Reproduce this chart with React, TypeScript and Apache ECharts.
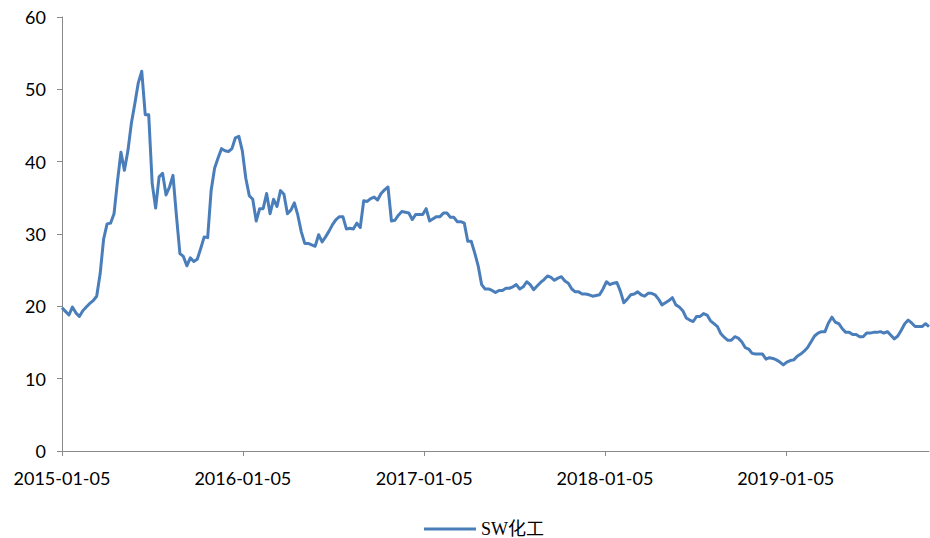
import { useEffect, useRef } from 'react';
import * as echarts from 'echarts';

// SW化工 valuation, one reading per week starting from the first Monday below
const seriesName = 'SW化工';
const firstWeek = '2015-01-05';
const weeklyPE = [
  19.8, 19.3, 18.8, 19.9, 19.1, 18.6, 19.4, 19.9, 20.4, 20.8, 21.4,
  24.5, 29.3, 31.4, 31.5, 32.8, 37.3, 41.3, 38.8, 41.5, 45.3,
  48.0, 50.9, 52.5, 46.5, 46.5, 37.0, 33.6, 37.9, 38.4, 35.4,
  36.5, 38.1, 32.5, 27.3, 26.9, 25.6, 26.7, 26.2, 26.5, 28.0,
  29.6, 29.5, 36.0, 39.1, 40.5, 41.8, 41.5, 41.4, 41.8, 43.3,
  43.5, 41.5, 37.7, 35.3, 34.8, 31.8, 33.5, 33.5, 35.6, 32.8,
  34.8, 33.8, 36.0, 35.5, 32.8, 33.3, 34.3, 32.6, 30.3, 28.7,
  28.7, 28.5, 28.3, 29.9, 28.9, 29.6, 30.4, 31.3, 32.0, 32.4,
  32.4, 30.7, 30.8, 30.7, 31.5, 30.9, 34.6, 34.5, 34.9, 35.1,
  34.7, 35.6, 36.1, 36.5, 31.8, 31.9, 32.6, 33.1, 33.0, 32.9,
  32.0, 32.7, 32.7, 32.7, 33.5, 31.8, 32.1, 32.4, 32.4, 32.9,
  32.9, 32.3, 32.3, 31.7, 31.7, 31.5, 29.0, 29.0, 27.4, 25.6,
  23.0, 22.4, 22.4, 22.2, 21.9, 22.2, 22.2, 22.5, 22.5, 22.7,
  23.0, 22.4, 22.7, 23.4, 23.0, 22.3, 22.8, 23.3, 23.7, 24.2,
  24.0, 23.6, 23.9, 24.1, 23.5, 23.2, 22.4, 22.0, 22.0, 21.7,
  21.7, 21.6, 21.4, 21.5, 21.6, 22.4, 23.4, 23.0, 23.2, 23.3,
  22.1, 20.5, 21.0, 21.6, 21.7, 22.0, 21.6, 21.4, 21.8, 21.8,
  21.6, 21.0, 20.2, 20.5, 20.8, 21.2, 20.2, 19.9, 19.4, 18.4,
  18.1, 17.9, 18.6, 18.6, 19.0, 18.8, 18.0, 17.6, 17.2, 16.2,
  15.7, 15.3, 15.3, 15.8, 15.6, 15.1, 14.3, 14.1, 13.5, 13.4,
  13.4, 13.4, 12.7, 12.9, 12.8, 12.6, 12.3, 11.9, 12.3, 12.5,
  12.6, 13.1, 13.4, 13.8, 14.3, 15.1, 15.9, 16.3, 16.5, 16.5,
  17.7, 18.5, 17.8, 17.6, 16.9, 16.4, 16.4, 16.1, 16.1, 15.8,
  15.8, 16.3, 16.3, 16.4, 16.4, 16.5, 16.3, 16.5, 16.0, 15.5,
  15.9, 16.7, 17.6, 18.1, 17.7, 17.2, 17.2, 17.2, 17.6, 17.2,
];

// Yearly ticks on the date axis
const xTickDates = ['2015-01-05', '2016-01-05', '2017-01-05', '2018-01-05', '2019-01-05'];

const yMin = 0;
const yMax = 60;
const yStep = 10;

function parseDay(s: string): number {
  const [y, m, d] = s.split('-').map(Number);
  return new Date(y, m - 1, d).getTime();
}

function formatDay(t: number): string {
  const d = new Date(t);
  const p = (n: number) => String(n).padStart(2, '0');
  return `${d.getFullYear()}-${p(d.getMonth() + 1)}-${p(d.getDate())}`;
}

export default function App() {
  const ref = useRef<HTMLDivElement>(null);

  useEffect(() => {
    if (!ref.current) return;
    const chart = echarts.init(ref.current, null, { renderer: 'svg' });

    const [y0, m0, d0] = firstWeek.split('-').map(Number);
    const points = weeklyPE.map((v, i) => [new Date(y0, m0 - 1, d0 + 7 * i).getTime(), v]);
    const ticks = xTickDates.map(parseDay);
    const axisGray = '#898989';
    const labelFont = { fontFamily: 'Lato', fontSize: 18, color: '#000' };

    chart.setOption({
      animation: false,
      backgroundColor: '#fff',
      grid: { left: 62, right: 1, top: 17, bottom: 87, containLabel: false, outerBoundsMode: 'none' },
      legend: {
        left: 419,
        top: 515,
        icon: 'rect',
        itemWidth: 52,
        itemHeight: 3,
        itemGap: 10,
        textStyle: {
          fontFamily: "'Liberation Serif', 'Noto Sans CJK SC', serif",
          fontSize: 18,
          color: '#000',
        },
        data: [seriesName],
      },
      xAxis: {
        type: 'value',
        min: points[0][0],
        max: points[points.length - 1][0],
        axisLine: { show: true, lineStyle: { color: axisGray, width: 1 } },
        axisTick: {
          show: true,
          length: 5,
          inside: false,
          customValues: ticks,
          lineStyle: { color: axisGray, width: 1 },
        },
        axisLabel: {
          ...labelFont,
          margin: 18,
          customValues: ticks,
          formatter: (v: number) => formatDay(v),
        },
        splitLine: { show: false },
      },
      yAxis: {
        type: 'value',
        min: yMin,
        max: yMax,
        interval: yStep,
        axisLine: { show: true, lineStyle: { color: axisGray, width: 1 } },
        axisTick: { show: true, length: 5, inside: false, lineStyle: { color: axisGray, width: 1 } },
        axisLabel: { ...labelFont, margin: 16 },
        splitLine: { show: false },
      },
      series: [
        {
          name: seriesName,
          type: 'line',
          data: points,
          showSymbol: false,
          symbol: 'none',
          color: '#4A7EBB',
          lineStyle: { color: '#4A7EBB', width: 3, join: 'round' },
        },
      ],
    });

    return () => chart.dispose();
  }, []);

  return (
    <div
      ref={ref}
      style={{ position: 'absolute', left: 0, top: 0, width: 930, height: 538, background: '#fff' }}
    />
  );
}
